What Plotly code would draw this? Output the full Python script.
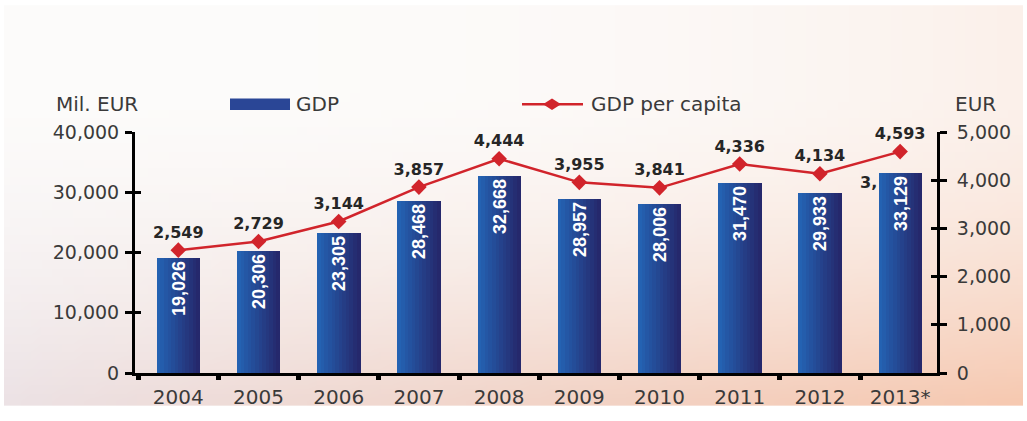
import base64
import struct
import zlib

import plotly.graph_objects as go

# ---- data -------------------------------------------------------------
years = ["2004", "2005", "2006", "2007", "2008", "2009", "2010", "2011", "2012", "2013*"]
gdp_mil_eur = [19026, 20306, 23305, 28468, 32668, 28957, 28006, 31470, 29933, 33129]
gdp_per_capita_eur = [2549, 2729, 3144, 3857, 4444, 3955, 3841, 4336, 4134, 4593]
left_ticks = [0, 10000, 20000, 30000, 40000]
right_ticks = [0, 1000, 2000, 3000, 4000, 5000]

# ---- geometry (pixels) ------------------------------------------------
W, H = 1027, 421
ML, MR, MT, MB = 135, 90, 132, 38
PW, PH = W - ML - MR, H - MT - MB


def px_x(px):
    return (px - ML) / PW


def px_y(py):
    return (H - MB - py) / PH


# ---- soft background gradient rendered into a small PNG ---------------
def lerp(a, b, t):
    return tuple(a[i] + (b[i] - a[i]) * t for i in range(3))


def bg_png(w=96, h=48):
    top = (252, 251, 250)
    bot_left = (236, 226, 229)
    bot_right = (246, 201, 177)
    rows = []
    for j in range(h):
        v = j / (h - 1)
        s = max(0.0, (v - 0.22) / 0.78) ** 1.6
        row = bytearray([0])
        for i in range(w):
            u = i / (w - 1)
            bottom = lerp(bot_left, bot_right, u ** 0.9)
            side = lerp(top, lerp(top, bot_right, 0.22), u ** 3)
            c = lerp(side, bottom, s)
            row += bytes(int(round(x)) for x in c)
        rows.append(bytes(row))
    raw = b"".join(rows)

    def chunk(tag, data):
        return (struct.pack(">I", len(data)) + tag + data
                + struct.pack(">I", zlib.crc32(tag + data) & 0xFFFFFFFF))

    png = (b"\x89PNG\r\n\x1a\n"
           + chunk(b"IHDR", struct.pack(">IIBBBBB", w, h, 8, 2, 0, 0, 0))
           + chunk(b"IDAT", zlib.compress(raw, 9))
           + chunk(b"IEND", b""))
    return "data:image/png;base64," + base64.b64encode(png).decode()


fig = go.Figure()

# ---- GDP bars: horizontal shading built from thin overlaid slices -----
BAR_W = 0.535
N_SLICES = 12
left_col = (36, 98, 178)
right_col = (37, 40, 108)
slice_w = BAR_W / N_SLICES
for k in range(N_SLICES):
    t = k / (N_SLICES - 1)
    r, g, b = (int(round(c)) for c in lerp(left_col, right_col, t))
    fig.add_trace(go.Bar(
        x=years, y=gdp_mil_eur,
        width=slice_w + 0.006, offset=-BAR_W / 2 + k * slice_w,
        marker=dict(color=f"rgb({r},{g},{b})", line=dict(width=0)),
        showlegend=False, hoverinfo="skip", yaxis="y",
    ))

# value labels on the bars
fig.add_trace(go.Bar(
    x=years, y=gdp_mil_eur, width=BAR_W, offset=-BAR_W / 2,
    marker=dict(color="rgba(0,0,0,0)", line=dict(width=0)),
    text=[f"{v:,}" for v in gdp_mil_eur],
    textposition="inside", insidetextanchor="end", textangle=-90,
    textfont=dict(family="Liberation Sans", size=18, color="white", weight="bold"),
    constraintext="none", cliponaxis=False,
    name="GDP", showlegend=False, yaxis="y",
))

# ---- GDP per capita line ---------------------------------------------
fig.add_trace(go.Scatter(
    x=years, y=gdp_per_capita_eur, yaxis="y2",
    mode="lines+markers+text",
    line=dict(color="#d1242b", width=2.5),
    marker=dict(symbol="diamond", size=12, color="#d1242b"),
    text=[f"{v:,}" for v in gdp_per_capita_eur],
    textposition="top center",
    textfont=dict(family="DejaVu Sans", size=16, color="#262626", weight="bold"),
    name="GDP per capita", showlegend=False, cliponaxis=False,
))

# empty traces so the companion tick axes get drawn
for ax in ("y3", "y4"):
    fig.add_trace(go.Scatter(x=[], y=[], yaxis=ax, showlegend=False,
                             hoverinfo="skip", mode="markers"))

tick_font = dict(family="DejaVu Sans", size=19, color="#3a3a3a")
axis_common = dict(showline=True, linecolor="black", linewidth=3,
                   showgrid=False, zeroline=False, ticks="outside",
                   tickcolor="black", tickfont=tick_font)
# companion axes that add the inner half of each crossing tick
inner_ticks = dict(showline=False, showgrid=False, zeroline=False,
                   ticks="inside", ticklen=6, tickwidth=3, tickcolor="black",
                   showticklabels=False, type="linear")

# ---- legend and unit captions drawn in paper space --------------------
shapes = [
    dict(type="rect", xref="paper", yref="paper",
         x0=px_x(230), x1=px_x(290), y0=px_y(109), y1=px_y(97),
         fillcolor="#2a4696", line=dict(width=0)),
    dict(type="line", xref="paper", yref="paper",
         x0=px_x(522), x1=px_x(583), y0=px_y(103), y1=px_y(103),
         line=dict(color="#d1242b", width=2.5)),
    dict(type="path", xref="paper", yref="paper",
         path=(f"M {px_x(543)} {px_y(103)} L {px_x(552)} {px_y(97)} "
               f"L {px_x(561)} {px_y(103)} L {px_x(552)} {px_y(109)} Z"),
         fillcolor="#d1242b", line=dict(width=0)),
]

label_font = dict(family="DejaVu Sans", size=20, color="#3a3a3a")
annotations = [
    dict(text="Mil. EUR", xref="paper", yref="paper", x=px_x(54), y=px_y(103),
         xanchor="left", yanchor="middle", showarrow=False, font=label_font),
    dict(text="GDP", xref="paper", yref="paper", x=px_x(294), y=px_y(103),
         xanchor="left", yanchor="middle", showarrow=False, font=label_font),
    dict(text="GDP per capita", xref="paper", yref="paper", x=px_x(589), y=px_y(103),
         xanchor="left", yanchor="middle", showarrow=False, font=label_font),
    dict(text="EUR", xref="paper", yref="paper", x=px_x(953), y=px_y(103),
         xanchor="left", yanchor="middle", showarrow=False, font=label_font),
    dict(text="3,", xref="x", yref="y2", x=8.74, y=3950,
         xanchor="right", yanchor="middle", showarrow=False,
         font=dict(family="DejaVu Sans", size=16, color="#262626", weight="bold")),
]

fig.update_layout(
    width=W, height=H,
    margin=dict(l=ML, r=MR, t=MT, b=MB, pad=0),
    paper_bgcolor="white", plot_bgcolor="rgba(0,0,0,0)",
    barmode="overlay", bargap=0,
    showlegend=False,
    xaxis=dict(**axis_common, range=[-0.54, 9.46], tickson="boundaries",
               ticklen=4, tickwidth=5, ticklabelstandoff=4,
               tickfont_size=20,
               categoryorder="array", categoryarray=years),
    yaxis=dict(**axis_common, range=[0, 40000], tickvals=left_ticks,
               tickformat=",", ticklen=7, tickwidth=3, ticklabelstandoff=2),
    yaxis2=dict(**axis_common, overlaying="y", side="right", range=[0, 5000],
                tickvals=right_ticks, tickformat=",", ticklen=7, tickwidth=3,
                ticklabelstandoff=6),
    yaxis3=dict(**inner_ticks, overlaying="y", side="left", range=[0, 40000],
                tickvals=left_ticks),
    yaxis4=dict(**inner_ticks, overlaying="y", side="right", range=[0, 5000],
                tickvals=right_ticks),
    shapes=shapes,
    annotations=annotations,
    images=[dict(source=bg_png(), xref="paper", yref="paper",
                 x=px_x(4), y=px_y(0), sizex=1019 / PW, sizey=417 / PH,
                 xanchor="left", yanchor="top", sizing="stretch", layer="below")],
)

fig.write_html("out.html")
